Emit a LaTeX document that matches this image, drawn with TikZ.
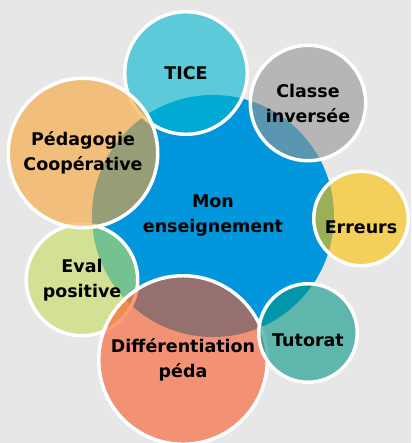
\documentclass[tikz,border=0pt]{standalone}
\usepackage{fontspec}
\setmainfont{DejaVu Sans}
\usepackage{tikz}
\usetikzlibrary{positioning}

\definecolor{fondgris}{RGB}{231,231,231}
\definecolor{bleucentre}{RGB}{2,150,220}
\definecolor{ticec}{RGB}{0,184,206}
\definecolor{classec}{RGB}{150,150,150}
\definecolor{pedac}{RGB}{250,163,52}
\definecolor{errc}{RGB}{255,192,0}
\definecolor{evalc}{RGB}{196,222,94}
\definecolor{diffc}{RGB}{250,88,38}
\definecolor{tutc}{RGB}{4,150,135}

\tikzset{
  bulle/.style={circle, inner sep=0pt, align=center, draw=white, line width=2.6pt,
    fill opacity=0.6, text opacity=1, draw opacity=1,
    font=\fontsize{13.1}{18.75}\selectfont\bfseries},
  centre/.style={circle, inner sep=0pt, align=center, fill=bleucentre,
    font=\fontsize{13.1}{18.75}\selectfont\bfseries}
}

\begin{document}
\begin{tikzpicture}[x=0.75pt,y=0.75pt,yscale=-1,xscale=1]
% fond
\fill[fondgris] (0,0) rectangle (411,443);
\useasboundingbox (0,0) rectangle (411,443);

% cercle central
\node[centre, minimum size=181.5pt] (ens) at (213,216) {Mon\\enseignement};

% cercles autour
\node[bulle, fill=ticec, minimum size=91.9pt] (tice) at (186,73) {TICE};
\node[bulle, fill=classec, minimum size=86.6pt] (classe) at (308,103) {Classe\\invers\'ee};
\node[bulle, fill=errc, minimum size=70.9pt, text height=22.5pt, text depth=0pt] (err) at (361,218.5) {Erreurs};
\node[bulle, fill=evalc, minimum size=83.6pt] (eval) at (82,280) {Eval\\positive};
\node[bulle, fill=diffc, minimum size=126.4pt] (diff) at (183,360) {Diff\'erentiation\\p\'eda};
\node[bulle, fill=tutc, minimum size=73.9pt, text height=20pt, text depth=0pt] (tut) at (308,333) {Tutorat};
\node[bulle, fill=pedac, minimum size=112.1pt] (peda) at (83,153) {P\'edagogie\\Coop\'erative};

\end{tikzpicture}
\end{document}
